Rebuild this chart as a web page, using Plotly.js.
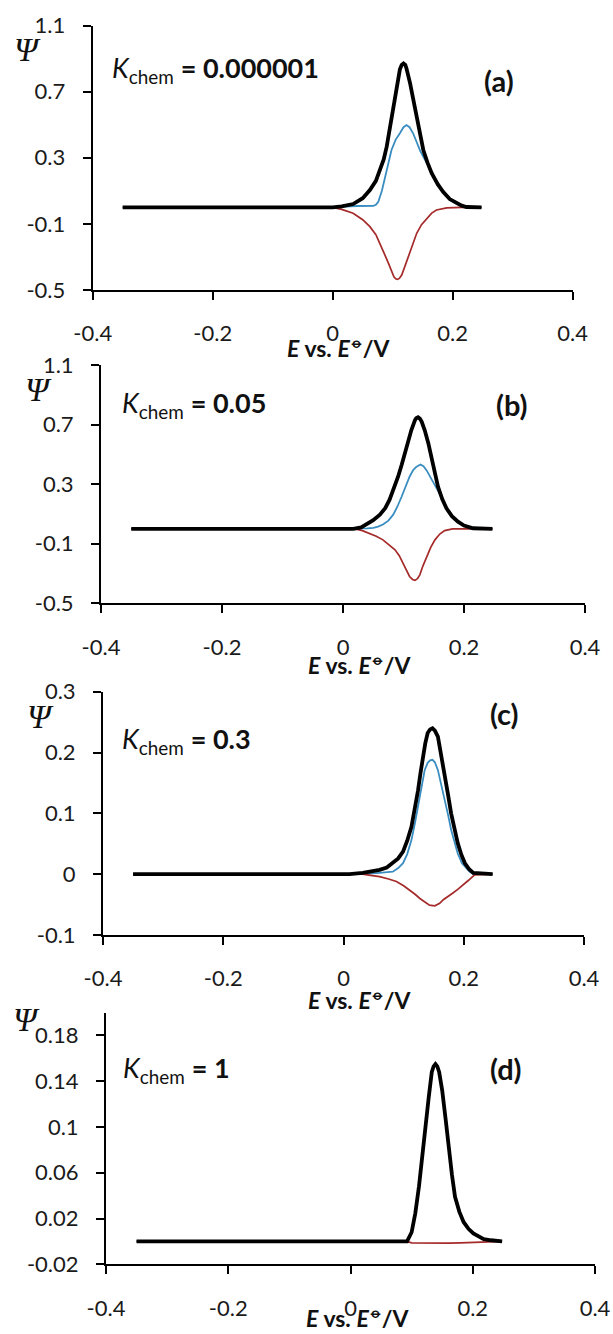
<!DOCTYPE html>
<html>
<head>
<meta charset="utf-8">
<script src="https://cdn.plot.ly/plotly-3.0.1.min.js"></script>
<style>
  html, body { margin: 0; padding: 0; background: #fff; }
  #chart { width: 613px; height: 1334px; }
</style>
</head>
<body>
<div id="chart"></div>
<script>
// ---------------- DATA ----------------
const xTickVals = [-0.4, -0.2, 0, 0.2, 0.4];
const xTickText = ["-0.4", "-0.2", "0", "0.2", "0.4"];

const yTickValsAB = [-0.5, -0.1, 0.3, 0.7, 1.1];
const yTickTextAB = ["-0.5", "-0.1", "0.3", "0.7", "1.1"];
const yTickValsC = [-0.1, 0, 0.1, 0.2, 0.3];
const yTickTextC = ["-0.1", "0", "0.1", "0.2", "0.3"];
const yTickValsD = [-0.02, 0.02, 0.06, 0.1, 0.14, 0.18];
const yTickTextD = ["-0.02", "0.02", "0.06", "0.1", "0.14", "0.18"];

const panelLetters = ["(a)", "(b)", "(c)", "(d)"];
const kchemValues = ["0.000001", "0.05", "0.3", "1"];

// Panel (a)  Kchem = 0.000001
const blackA_E = [-0.35, 0.0, 0.015, 0.034, 0.05, 0.062, 0.072, 0.079, 0.085, 0.090, 0.094, 0.098, 0.103, 0.107, 0.112, 0.115, 0.118, 0.121, 0.123, 0.129, 0.135, 0.140, 0.146, 0.151, 0.158, 0.165, 0.175, 0.184, 0.195, 0.207, 0.215, 0.223, 0.248];
const blackA_P = [0, 0, 0.006, 0.02, 0.055, 0.105, 0.16, 0.226, 0.29, 0.367, 0.45, 0.548, 0.66, 0.75, 0.835, 0.862, 0.871, 0.862, 0.84, 0.75, 0.64, 0.528, 0.43, 0.347, 0.27, 0.206, 0.14, 0.094, 0.05, 0.024, 0.01, 0.002, 0];
const blueA_E = [-0.35, 0.0, 0.02, 0.04, 0.06, 0.068, 0.072, 0.076, 0.082, 0.087, 0.093, 0.098, 0.105, 0.112, 0.118, 0.123, 0.128, 0.134, 0.140, 0.146, 0.152, 0.158, 0.165, 0.175, 0.184, 0.195, 0.207, 0.215, 0.248];
const blueA_P = [0, 0, 0.004, 0.008, 0.008, 0.009, 0.015, 0.034, 0.1, 0.185, 0.27, 0.347, 0.41, 0.448, 0.485, 0.498, 0.485, 0.448, 0.39, 0.34, 0.3, 0.26, 0.2, 0.135, 0.09, 0.046, 0.02, 0.007, 0];
const redA_E = [-0.35, 0.0, 0.015, 0.034, 0.05, 0.062, 0.072, 0.079, 0.086, 0.093, 0.098, 0.102, 0.105, 0.108, 0.111, 0.115, 0.120, 0.126, 0.133, 0.140, 0.148, 0.157, 0.165, 0.173, 0.190, 0.215, 0.248];
const redA_P = [0, 0, -0.012, -0.036, -0.075, -0.117, -0.165, -0.218, -0.28, -0.339, -0.39, -0.42, -0.432, -0.436, -0.43, -0.41, -0.36, -0.299, -0.225, -0.157, -0.105, -0.067, -0.035, -0.016, -0.003, 0, 0];

// Panel (b)  Kchem = 0.05
const blackB_E = [-0.35, 0.017, 0.03, 0.039, 0.05, 0.061, 0.07, 0.077, 0.084, 0.091, 0.097, 0.102, 0.108, 0.113, 0.119, 0.121, 0.124, 0.127, 0.130, 0.135, 0.141, 0.146, 0.152, 0.157, 0.164, 0.171, 0.180, 0.190, 0.200, 0.215, 0.247];
const blackB_P = [0, 0, 0.01, 0.029, 0.058, 0.095, 0.14, 0.196, 0.27, 0.35, 0.43, 0.507, 0.59, 0.663, 0.73, 0.743, 0.749, 0.74, 0.72, 0.663, 0.575, 0.485, 0.38, 0.283, 0.2, 0.138, 0.085, 0.048, 0.022, 0.004, 0];
const blueB_E = [-0.35, 0.028, 0.04, 0.05, 0.058, 0.066, 0.075, 0.083, 0.09, 0.097, 0.104, 0.11, 0.116, 0.121, 0.128, 0.133, 0.138, 0.144, 0.149, 0.155, 0.160, 0.164, 0.171, 0.180, 0.190, 0.200, 0.215, 0.247];
const blueB_P = [0, 0, 0.003, 0.007, 0.015, 0.029, 0.055, 0.095, 0.15, 0.217, 0.29, 0.35, 0.395, 0.416, 0.432, 0.42, 0.394, 0.35, 0.305, 0.27, 0.236, 0.198, 0.138, 0.083, 0.045, 0.019, 0.003, 0];
const redB_E = [-0.35, 0.02, 0.032, 0.044, 0.055, 0.066, 0.076, 0.086, 0.093, 0.099, 0.105, 0.110, 0.115, 0.119, 0.123, 0.127, 0.132, 0.138, 0.145, 0.152, 0.160, 0.168, 0.175, 0.181, 0.215, 0.247];
const redB_P = [0, 0, -0.012, -0.03, -0.05, -0.074, -0.105, -0.141, -0.18, -0.23, -0.275, -0.32, -0.34, -0.346, -0.335, -0.309, -0.25, -0.186, -0.125, -0.074, -0.035, -0.012, -0.003, 0, 0, 0];

// Panel (c)  Kchem = 0.3
const blackC_E = [-0.35, 0.01, 0.032, 0.06, 0.072, 0.082, 0.091, 0.099, 0.106, 0.113, 0.119, 0.124, 0.128, 0.132, 0.136, 0.140, 0.144, 0.148, 0.152, 0.157, 0.162, 0.168, 0.174, 0.179, 0.185, 0.190, 0.196, 0.202, 0.209, 0.216, 0.248];
const blackC_P = [0, 0, 0.002, 0.007, 0.011, 0.018, 0.026, 0.037, 0.055, 0.078, 0.108, 0.138, 0.166, 0.193, 0.215, 0.232, 0.238, 0.24, 0.236, 0.226, 0.2, 0.166, 0.13, 0.1, 0.072, 0.051, 0.032, 0.018, 0.008, 0.002, 0];
const blueC_E = [-0.35, 0.032, 0.06, 0.072, 0.082, 0.091, 0.099, 0.106, 0.113, 0.119, 0.124, 0.130, 0.135, 0.140, 0.144, 0.148, 0.152, 0.157, 0.162, 0.168, 0.174, 0.179, 0.185, 0.190, 0.197, 0.204, 0.210, 0.216, 0.248];
const blueC_P = [0, 0, 0.002, 0.003, 0.004, 0.01, 0.018, 0.033, 0.056, 0.085, 0.111, 0.145, 0.171, 0.183, 0.187, 0.188, 0.184, 0.171, 0.15, 0.122, 0.097, 0.073, 0.052, 0.034, 0.018, 0.01, 0.004, 0, 0];
const redC_E = [-0.35, 0.032, 0.045, 0.06, 0.075, 0.088, 0.10, 0.11, 0.119, 0.127, 0.135, 0.143, 0.152, 0.160, 0.166, 0.174, 0.182, 0.190, 0.199, 0.208, 0.218, 0.248];
const redC_P = [0, 0, -0.002, -0.004, -0.008, -0.012, -0.019, -0.026, -0.033, -0.04, -0.046, -0.051, -0.052, -0.048, -0.042, -0.037, -0.031, -0.025, -0.018, -0.01, -0.001, 0];

// Panel (d)  Kchem = 1
const blackD_E = [-0.35, 0.0925, 0.10, 0.106, 0.112, 0.117, 0.122, 0.128, 0.133, 0.136, 0.139, 0.142, 0.145, 0.150, 0.156, 0.161, 0.166, 0.171, 0.178, 0.185, 0.193, 0.201, 0.210, 0.218, 0.230, 0.248];
const blackD_P = [0, 0, 0.008, 0.0245, 0.048, 0.074, 0.1, 0.126, 0.148, 0.153, 0.155, 0.153, 0.148, 0.132, 0.105, 0.08, 0.058, 0.039, 0.026, 0.017, 0.011, 0.007, 0.004, 0.002, 0.001, 0];
const blueD_E = [-0.35, 0.0925, 0.10, 0.106, 0.112, 0.117, 0.122, 0.128, 0.133, 0.139, 0.145, 0.150, 0.156, 0.161, 0.166, 0.171, 0.178, 0.185, 0.193, 0.201, 0.210, 0.218, 0.230, 0.248];
const blueD_P = [0, 0, 0.008, 0.0245, 0.048, 0.074, 0.1, 0.126, 0.148, 0.155, 0.148, 0.132, 0.105, 0.08, 0.058, 0.039, 0.026, 0.017, 0.011, 0.007, 0.004, 0.002, 0.001, 0];
const redD_E = [-0.35, 0.092, 0.10, 0.12, 0.14, 0.16, 0.18, 0.20, 0.215, 0.225, 0.248];
const redD_P = [0, 0, -0.0012, -0.0015, -0.0016, -0.0015, -0.0013, -0.001, -0.0006, 0, 0];

// ---------------- LAYOUT GEOMETRY (pixels) ----------------
const W = 613, H = 1334;
const panels = [
  { x0: 92.7, x1: 572.7, yTop: 25.5, yBot: 290, yr: [-0.5, 1.1], tv: yTickValsAB, tt: yTickTextAB,
    psi: [27, 49], k: [110, 70], let: [499, 80], tit: [339, 347],
    blue: [blueA_E, blueA_P], red: [redA_E, redA_P], black: [blackA_E, blackA_P] },
  { x0: 101, x1: 585, yTop: 365, yBot: 603.3, yr: [-0.5, 1.1], tv: yTickValsAB, tt: yTickTextAB,
    psi: [38, 390], k: [120, 404], let: [512, 404], tit: [360, 663],
    blue: [blueB_E, blueB_P], red: [redB_E, redB_P], black: [blackB_E, blackB_P] },
  { x0: 103, x1: 584, yTop: 691.7, yBot: 935, yr: [-0.1, 0.3], tv: yTickValsC, tt: yTickTextC,
    psi: [40, 716], k: [120, 741], let: [504, 713], tit: [360, 998],
    blue: [blueC_E, blueC_P], red: [redC_E, redC_P], black: [blackC_E, blackC_P] },
  { x0: 106, x1: 595, yTop: 1012.5, yBot: 1264.3, yr: [-0.02, 0.2], tv: yTickValsD, tt: yTickTextD,
    psi: [26, 1019], k: [121, 1069], let: [506, 1068], tit: [358, 1316],
    blue: [blueD_E, blueD_P], red: [redD_E, redD_P], black: [blackD_E, blackD_P] }
];

const FONT = "Lato, 'Open Sans', sans-serif";
const BLUE = "#3a8dc0";
const RED = "#a52a2a";

const data = [];
const layout = {
  width: W, height: H,
  margin: { l: 0, r: 0, t: 0, b: 0 },
  paper_bgcolor: "#ffffff", plot_bgcolor: "rgba(0,0,0,0)",
  showlegend: false,
  font: { family: FONT, color: "#1a1a1a", size: 22 },
  annotations: []
};

panels.forEach((p, i) => {
  const n = i === 0 ? "" : String(i + 1);
  const xa = "x" + n, ya = "y" + n;
  data.push({ x: p.blue[0], y: p.blue[1], xaxis: xa, yaxis: ya, type: "scatter", mode: "lines",
              line: { color: BLUE, width: 1.8, shape: "linear" }, hoverinfo: "skip" });
  data.push({ x: p.red[0], y: p.red[1], xaxis: xa, yaxis: ya, type: "scatter", mode: "lines",
              line: { color: RED, width: 1.7, shape: "linear" }, hoverinfo: "skip" });
  data.push({ x: p.black[0], y: p.black[1], xaxis: xa, yaxis: ya, type: "scatter", mode: "lines",
              line: { color: "#000000", width: 3.8, shape: "linear" }, hoverinfo: "skip" });

  layout["xaxis" + n] = {
    domain: [p.x0 / W, p.x1 / W], range: [-0.4, 0.4], anchor: ya,
    tickmode: "array", tickvals: xTickVals, ticktext: xTickText,
    ticks: "outside", ticklen: 8, tickwidth: 2, tickcolor: "#000",
    showline: true, linecolor: "#000", linewidth: 2,
    showgrid: false, zeroline: false, fixedrange: true,
    ticklabelstandoff: 15,
    tickfont: { family: FONT, size: 22, color: "#1a1a1a" }
  };
  layout["yaxis" + n] = {
    domain: [1 - p.yBot / H, 1 - p.yTop / H], range: p.yr, anchor: xa,
    tickmode: "array", tickvals: p.tv, ticktext: p.tt,
    ticks: "outside", ticklen: 8, tickwidth: 2, tickcolor: "#000",
    showline: true, linecolor: "#000", linewidth: 2,
    showgrid: false, zeroline: false, fixedrange: true,
    ticklabelstandoff: 13,
    tickfont: { family: FONT, size: 22, color: "#1a1a1a" }
  };

  layout.annotations.push({
    xref: "paper", yref: "paper", x: p.psi[0] / W, y: 1 - p.psi[1] / H,
    xanchor: "center", yanchor: "middle", showarrow: false,
    text: "<i>Ψ</i>", font: { family: "'Liberation Serif', 'DejaVu Serif', serif", size: 34, color: "#111" }
  });
  layout.annotations.push({
    xref: "paper", yref: "paper", x: p.k[0] / W, y: 1 - p.k[1] / H,
    xanchor: "left", yanchor: "middle", showarrow: false,
    text: "<i>K</i><sub>chem</sub> <b>= " + kchemValues[i] + "</b>",
    font: { family: FONT, size: 27, color: "#111" }
  });
  layout.annotations.push({
    xref: "paper", yref: "paper", x: p.let[0] / W, y: 1 - p.let[1] / H,
    xanchor: "center", yanchor: "middle", showarrow: false,
    text: "<b>" + panelLetters[i] + "</b>", font: { family: FONT, size: 29, color: "#111" }
  });
  layout.annotations.push({
    xref: "paper", yref: "paper", x: p.tit[0] / W, y: 1 - p.tit[1] / H,
    xanchor: "center", yanchor: "middle", showarrow: false,
    text: "<b><i>E</i> vs. <i>E</i><sup>⦵</sup>/V</b>", font: { family: FONT, size: 23, color: "#111" }
  });
});

Plotly.newPlot("chart", data, layout, { staticPlot: true, displayModeBar: false });
</script>
</body>
</html>
